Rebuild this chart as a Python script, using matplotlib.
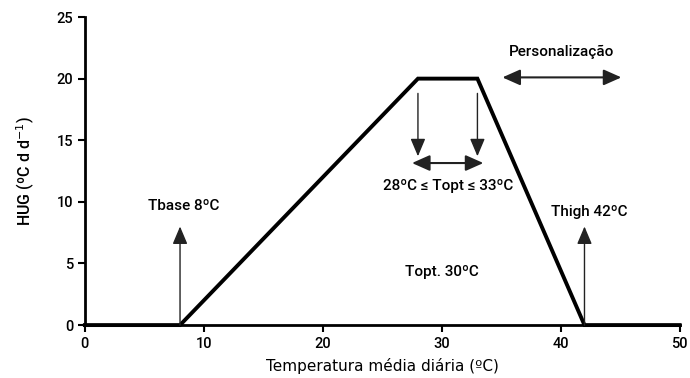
import matplotlib
matplotlib.use("Agg")
import matplotlib.pyplot as plt

# === Data: HUG response to mean daily temperature ===
temps = [0, 8, 28, 33, 42, 50]
hug = [0, 0, 20, 20, 0, 0]

t_base = 8
t_opt_low = 28
t_opt_high = 33
t_high = 42
x_ticks = [0, 10, 20, 30, 40, 50]
y_ticks = [0, 5, 10, 15, 20, 25]

FONT = ["Roboto", "DejaVu Sans"]

fig = plt.figure(figsize=(6.9, 3.78), dpi=100)
ax = fig.add_axes([0.123, 0.140, 0.862, 0.815])

ax.plot(temps, hug, color="black", lw=2.8, solid_joinstyle="miter", clip_on=False, zorder=3)

ax.set_xlim(0, 50)
ax.set_ylim(0, 25)
ax.set_xticks(x_ticks)
ax.set_yticks(y_ticks)
for s in ["top", "right"]:
    ax.spines[s].set_visible(False)
for s in ["left", "bottom"]:
    ax.spines[s].set_linewidth(2)
ax.tick_params(direction="out", length=5, width=1.5, labelsize=10.5)
for lbl in ax.get_xticklabels() + ax.get_yticklabels():
    lbl.set_family(FONT)
    lbl.set_weight("medium")

ax.set_xlabel("Temperatura média diária (ºC)", fontsize=11, family="DejaVu Sans", labelpad=5)
ax.set_ylabel("HUG (ºC d d$^{-1}$)", fontsize=11.5, family=FONT, weight="medium", labelpad=14)

arrow = dict(arrowstyle="-|>,head_length=0.9,head_width=0.38", color="#222222",
             lw=1, mutation_scale=12, shrinkA=0, shrinkB=0)
double = dict(arrowstyle="<|-|>,head_length=0.9,head_width=0.4", color="#222222",
              lw=1.5, mutation_scale=12, shrinkA=0, shrinkB=0)
txt = dict(ha="center", va="center", fontsize=11, family=FONT, weight="medium")

# Tbase / Thigh markers
ax.annotate("", xy=(t_base, 8), xytext=(t_base, 0), arrowprops=arrow)
ax.annotate("", xy=(t_high, 8), xytext=(t_high, 0), arrowprops=arrow)
ax.text(8.3, 9.7, "Tbase %dºC" % t_base, **txt)
ax.text(42.4, 9.2, "Thigh %dºC" % t_high, **txt)

# optimum range
ax.annotate("", xy=(t_opt_low, 13.7), xytext=(t_opt_low, 18.8), arrowprops=arrow)
ax.annotate("", xy=(t_opt_high, 13.7), xytext=(t_opt_high, 18.8), arrowprops=arrow)
ax.annotate("", xy=(27.5, 13.15), xytext=(33.5, 13.15), arrowprops=double)
ax.text(30.5, 11.3, "%dºC ≤ Topt ≤ %dºC" % (t_opt_low, t_opt_high), **txt)
ax.text(30.0, 4.3, "Topt. 30ºC", **txt)

# customisation range
ax.annotate("", xy=(35.1, 20.1), xytext=(45.1, 20.1), arrowprops=double)
ax.text(40.1, 22.2, "Personalização", **txt)

fig.savefig("out.png", dpi=100)
